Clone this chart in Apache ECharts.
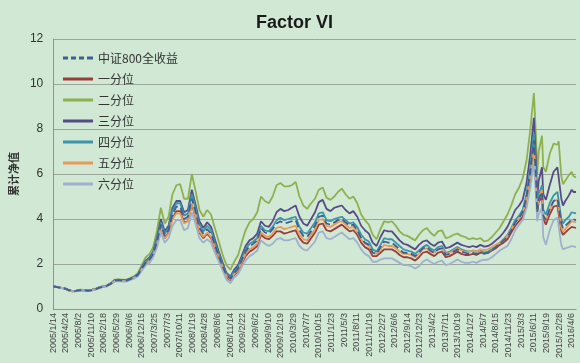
<!DOCTYPE html>
<html><head><meta charset="utf-8">
<script src="https://cdn.jsdelivr.net/npm/echarts@6/dist/echarts.min.js"></script>
<style>html,body{margin:0;padding:0;background:#d0e8d4;}#c{width:580px;height:363px;}</style>
</head><body><div id="c"></div>
<script>
// ---- categories (observation dates) ----
const pad = n => (n < 10 ? '0' + n : '' + n);
const monthlyDates = [];
for (let y = 2005; y <= 2014; y++) for (let m = 1; m <= 12; m++) monthlyDates.push(y + '-' + pad(m) + '-' + (y === 2005 && m === 1 ? '14' : '15'));
const lateDates = ['2015-01-15','2015-02-15','2015-03-15','2015-04-15','2015-05-15','2015-06-12','2015-06-30','2015-07-08','2015-07-20','2015-08-15','2015-08-25','2015-09-15','2015-10-15','2015-11-15','2015-12-15','2015-12-25',
  '2016-01-15','2016-01-28','2016-02-15','2016-03-15','2016-04-06','2016-04-20','2016-05-10'];
const dates = monthlyDates.concat(lateDates);

const seriesNames = ['中证800全收益','一分位','二分位','三分位','四分位','五分位','六分位'];
const yTicks = [0, 2, 4, 6, 8, 10, 12];

// ---- series values ----
const csi800 = [
 1.00,0.97,0.94,0.91,0.84,0.79,0.81,0.84,0.83,0.81,0.84,0.88,
 0.95,1.00,1.03,1.12,1.26,1.28,1.26,1.26,1.33,1.40,1.52,1.80,
 2.05,2.20,2.45,3.00,3.75,3.25,3.50,4.20,4.55,4.55,4.00,4.10,
 4.90,4.30,3.60,3.35,3.55,3.35,2.85,2.35,1.90,1.50,1.35,1.60,
 1.80,2.20,2.55,2.80,2.90,3.05,3.60,3.40,3.35,3.55,3.80,3.90,
 3.80,3.85,3.90,3.95,3.50,3.25,3.20,3.45,3.70,4.10,4.15,3.80,
 3.75,3.85,3.95,4.00,3.85,3.70,3.75,3.50,3.15,2.95,2.85,2.50,
 2.45,2.75,3.00,2.95,2.95,2.80,2.65,2.50,2.50,2.45,2.35,2.50,
 2.70,2.75,2.60,2.50,2.65,2.70,2.40,2.45,2.55,2.65,2.55,2.50,
 2.45,2.50,2.45,2.50,2.45,2.50,2.60,2.75,2.90,3.05,3.20,3.50,
 3.85,4.05,4.30,5.00,6.10,7.50,5.70,4.30,4.90,5.20,4.15,3.95,4.45,4.80,4.90,4.95,
 3.80,3.60,3.70,3.85,4.00,3.95,3.95];
const q1 = [
 1.00,0.97,0.94,0.91,0.83,0.78,0.80,0.83,0.82,0.80,0.83,0.87,
 0.94,0.99,1.02,1.11,1.24,1.26,1.24,1.24,1.31,1.38,1.50,1.78,
 2.02,2.15,2.40,2.95,3.65,3.15,3.40,4.05,4.35,4.35,3.85,3.90,
 4.65,4.05,3.40,3.15,3.35,3.15,2.70,2.25,1.80,1.40,1.28,1.50,
 1.70,2.05,2.35,2.55,2.65,2.80,3.30,3.15,3.10,3.25,3.45,3.45,
 3.35,3.40,3.45,3.50,3.15,2.95,2.90,3.15,3.40,3.75,3.80,3.50,
 3.45,3.55,3.65,3.75,3.60,3.45,3.50,3.30,2.95,2.75,2.65,2.35,
 2.35,2.50,2.65,2.65,2.65,2.55,2.40,2.30,2.30,2.25,2.15,2.30,
 2.50,2.55,2.45,2.35,2.50,2.55,2.30,2.35,2.45,2.55,2.45,2.40,
 2.40,2.45,2.40,2.50,2.50,2.50,2.60,2.70,2.85,2.95,3.10,3.40,
 3.70,3.90,4.10,4.75,5.80,7.30,5.40,4.30,4.75,5.00,4.00,3.75,4.20,4.55,4.60,4.60,
 3.45,3.30,3.40,3.55,3.65,3.60,3.60];
const q2 = [
 1.00,0.98,0.95,0.93,0.85,0.80,0.82,0.86,0.85,0.83,0.86,0.90,
 0.97,1.02,1.05,1.15,1.30,1.32,1.30,1.30,1.38,1.45,1.60,1.95,
 2.30,2.45,2.75,3.50,4.50,3.80,4.10,5.10,5.50,5.55,4.90,4.90,
 6.00,5.20,4.40,4.10,4.40,4.20,3.60,3.00,2.40,1.95,1.75,2.10,
 2.40,3.00,3.50,3.85,4.00,4.30,5.00,4.80,4.70,5.00,5.50,5.60,
 5.45,5.45,5.50,5.65,5.00,4.60,4.45,4.70,4.90,5.30,5.40,4.95,
 4.85,5.00,5.20,5.35,5.10,4.90,5.00,4.70,4.20,3.95,3.75,3.30,
 3.10,3.55,3.90,3.85,3.90,3.70,3.45,3.30,3.25,3.15,3.05,3.30,
 3.50,3.60,3.40,3.25,3.45,3.50,3.15,3.20,3.30,3.35,3.25,3.20,
 3.10,3.15,3.10,3.15,3.00,3.05,3.20,3.40,3.60,3.90,4.20,4.60,
 5.10,5.40,5.80,6.60,8.00,9.60,7.50,6.00,7.00,7.70,6.30,6.10,6.90,7.35,7.30,7.45,
 5.90,5.55,5.70,5.95,6.10,5.90,5.85];
const q3 = [
 1.00,0.98,0.95,0.92,0.85,0.80,0.82,0.85,0.84,0.82,0.85,0.89,
 0.96,1.01,1.04,1.14,1.28,1.30,1.28,1.28,1.35,1.42,1.55,1.85,
 2.15,2.30,2.55,3.20,4.00,3.45,3.70,4.50,4.80,4.80,4.30,4.40,
 5.30,4.60,3.90,3.60,3.85,3.65,3.10,2.55,2.05,1.60,1.45,1.75,
 1.95,2.40,2.80,3.05,3.15,3.35,3.90,3.70,3.65,3.90,4.30,4.45,
 4.35,4.40,4.50,4.60,4.10,3.80,3.70,4.00,4.30,4.75,4.85,4.45,
 4.35,4.50,4.55,4.60,4.40,4.25,4.35,4.10,3.70,3.50,3.35,2.95,
 2.80,3.20,3.50,3.45,3.45,3.25,3.05,2.90,2.85,2.75,2.65,2.85,
 3.00,3.05,2.90,2.80,2.95,3.00,2.70,2.75,2.85,2.95,2.85,2.80,
 2.75,2.80,2.75,2.85,2.77,2.80,2.90,3.05,3.20,3.40,3.65,4.00,
 4.40,4.60,4.85,5.60,6.90,8.50,6.40,4.90,5.70,6.30,5.10,4.85,5.50,6.10,6.30,6.30,
 4.90,4.60,4.80,5.05,5.30,5.20,5.20];
const q4 = [
 1.00,0.97,0.94,0.92,0.84,0.79,0.81,0.85,0.84,0.82,0.85,0.89,
 0.96,1.01,1.04,1.13,1.27,1.29,1.27,1.27,1.34,1.41,1.54,1.82,
 2.10,2.25,2.50,3.10,3.85,3.35,3.60,4.35,4.70,4.70,4.15,4.25,
 5.10,4.45,3.75,3.45,3.70,3.50,2.95,2.45,1.95,1.55,1.40,1.65,
 1.85,2.30,2.65,2.90,3.00,3.15,3.70,3.50,3.45,3.65,3.95,4.05,
 3.95,4.00,4.05,4.10,3.65,3.40,3.35,3.60,3.85,4.25,4.30,3.95,
 3.90,4.00,4.05,4.10,3.95,3.80,3.85,3.65,3.30,3.10,3.00,2.65,
 2.55,2.85,3.15,3.10,3.10,2.95,2.80,2.65,2.60,2.55,2.45,2.60,
 2.75,2.85,2.70,2.60,2.75,2.80,2.50,2.55,2.65,2.75,2.65,2.60,
 2.55,2.60,2.55,2.60,2.50,2.55,2.65,2.80,2.95,3.10,3.30,3.60,
 3.95,4.15,4.40,5.10,6.30,7.80,5.90,4.50,5.10,5.50,4.40,4.20,4.70,5.05,5.20,5.20,
 4.00,3.80,3.95,4.10,4.30,4.25,4.25];
const q5 = [
 1.00,0.97,0.94,0.91,0.83,0.78,0.80,0.84,0.83,0.81,0.84,0.88,
 0.95,1.00,1.02,1.11,1.24,1.26,1.24,1.24,1.31,1.38,1.50,1.76,
 2.00,2.15,2.40,2.90,3.60,3.15,3.35,4.00,4.25,4.25,3.80,3.90,
 4.70,4.10,3.45,3.20,3.40,3.20,2.75,2.30,1.85,1.45,1.30,1.55,
 1.75,2.10,2.45,2.65,2.75,2.90,3.40,3.25,3.20,3.35,3.60,3.65,
 3.55,3.60,3.65,3.70,3.30,3.10,3.05,3.30,3.55,3.95,4.00,3.70,
 3.65,3.75,3.85,3.90,3.75,3.60,3.65,3.45,3.10,2.90,2.80,2.50,
 2.45,2.65,2.85,2.80,2.80,2.70,2.55,2.45,2.45,2.40,2.30,2.45,
 2.65,2.70,2.55,2.50,2.65,2.70,2.45,2.50,2.60,2.70,2.60,2.55,
 2.55,2.60,2.55,2.65,2.62,2.65,2.75,2.85,2.95,3.05,3.25,3.55,
 3.85,4.05,4.25,4.90,5.90,7.10,5.50,4.40,4.90,5.30,4.20,3.95,4.40,4.80,4.85,4.80,
 3.60,3.45,3.55,3.75,3.90,3.85,3.85];
const q6 = [
 1.00,0.97,0.94,0.91,0.83,0.78,0.80,0.83,0.82,0.80,0.83,0.87,
 0.94,0.99,1.01,1.10,1.22,1.24,1.22,1.22,1.29,1.35,1.46,1.70,
 1.95,2.05,2.30,2.75,3.40,2.95,3.15,3.70,3.95,3.95,3.50,3.60,
 4.30,3.75,3.15,2.95,3.10,2.95,2.50,2.10,1.70,1.30,1.15,1.40,
 1.55,1.90,2.15,2.35,2.45,2.60,3.05,2.90,2.80,2.90,3.10,3.15,
 3.05,3.05,3.10,3.15,2.80,2.65,2.60,2.80,3.00,3.40,3.45,3.15,
 3.10,3.20,3.30,3.40,3.25,3.10,3.15,2.95,2.65,2.45,2.35,2.10,
 2.10,2.20,2.25,2.25,2.25,2.15,2.05,1.95,1.95,1.90,1.80,1.90,
 2.10,2.20,2.10,2.00,2.10,2.15,1.95,2.00,2.10,2.20,2.10,2.05,
 2.05,2.10,2.05,2.15,2.18,2.20,2.30,2.45,2.60,2.70,2.80,3.10,
 3.50,3.75,3.95,4.50,5.40,6.50,5.00,3.90,4.20,4.50,3.20,2.85,3.50,3.95,4.05,4.00,
 2.85,2.65,2.70,2.75,2.80,2.75,2.75];

const allValues = [csi800, q1, q2, q3, q4, q5, q6];
const colors = ['#3f5f8e','#9b3d3a','#8fb04f','#564b86','#3c94ad','#e89a5a','#9fb0cc'];

const START = Date.UTC(2005, 0, 14);
const dayOf = s => { const p = s.split('-'); return Math.round((Date.UTC(+p[0], +p[1]-1, +p[2]) - START) / 86400000); };
const dayToLabel = d => { const t = new Date(START + d * 86400000); return t.getUTCFullYear() + '/' + (t.getUTCMonth()+1) + '/' + t.getUTCDate(); };
const xs = dates.map(dayOf);

const solidIcon = 'path://M0,0 L30,0 L30,3 L0,3 Z';
const dashIcon = 'path://M0,0h5v3h-5z M8,0h5v3h-5z M16,0h5v3h-5z M24,0h6v3h-6z';

const chart = echarts.init(document.getElementById('c'), null, {renderer: 'canvas'});
chart.setOption({
  animation: false,
  backgroundColor: '#d0e8d4',
  title: { text: 'Factor VI', left: 251, top: 9,
    textStyle: { fontFamily: 'Liberation Sans', fontWeight: 'bold', fontSize: 18, color: '#1a1a1a' } },
  legend: {
    orient: 'vertical', left: 58, top: 47, itemWidth: 30, itemHeight: 14, itemGap: 9,
    symbolKeepAspect: true,
    data: seriesNames.map((n, i) => ({
      name: n,
      icon: i === 0 ? dashIcon : solidIcon,
      itemStyle: { color: colors[i], borderWidth: 0 }
    })),
    textStyle: { fontFamily: 'Noto Sans CJK SC', fontSize: 12, color: '#333' }
  },
  grid: { left: 45, right: 4, top: 39, bottom: 54, containLabel: false },
  xAxis: {
    type: 'value', min: 0, max: 4134, interval: 100,
    axisLine: { show: true, lineStyle: { color: '#8c968e', width: 1 } },
    axisTick: { show: false },
    splitLine: { show: false },
    axisLabel: { rotate: 90, fontSize: 9, margin: 4, color: '#444', fontFamily: 'Liberation Sans',
      showMaxLabel: false, formatter: v => dayToLabel(v) }
  },
  yAxis: {
    type: 'value', min: yTicks[0], max: yTicks[yTicks.length-1], interval: 2,
    name: '累计净值', nameLocation: 'middle', nameGap: 26, nameRotate: 90,
    nameTextStyle: { fontFamily: 'Noto Sans CJK SC', fontWeight: 'bold', fontSize: 11, color: '#333' },
    axisLine: { show: true, lineStyle: { color: '#8c968e', width: 1 } },
    axisTick: { show: false },
    splitLine: { lineStyle: { color: '#9aa59c', width: 1 } },
    axisLabel: { fontSize: 12, margin: 10, color: '#333', fontFamily: 'Liberation Sans' }
  },
  series: seriesNames.map((name, i) => ({
    name, type: 'line', symbol: 'none', smooth: false,
    data: allValues[i].map((v, k) => [xs[k], v]),
    lineStyle: { color: colors[i], width: 1.8, type: i === 0 ? 'dashed' : 'solid' },
    itemStyle: { color: colors[i] },
    z: i === 0 ? 3 : 2
  }))
});
</script>
</body></html>
